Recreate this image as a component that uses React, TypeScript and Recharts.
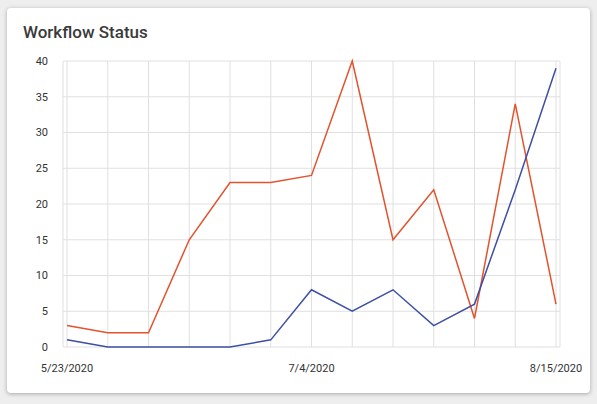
import { LineChart, Line, XAxis, YAxis, CartesianGrid } from 'recharts'

const dates = [
  '5/23/2020', '5/30/2020', '6/6/2020', '6/13/2020', '6/20/2020', '6/27/2020', '7/4/2020',
  '7/11/2020', '7/18/2020', '7/25/2020', '8/1/2020', '8/8/2020', '8/15/2020',
]
const openCounts = [3, 2, 2, 15, 23, 23, 24, 40, 15, 22, 4, 34, 6]
const doneCounts = [1, 0, 0, 0, 0, 1, 8, 5, 8, 3, 6, 22, 39]
const labeledDates = ['5/23/2020', '7/4/2020', '8/15/2020']
const yTicks = [0, 5, 10, 15, 20, 25, 30, 35, 40]

const data = dates.map((date, i) => ({ date, open: openCounts[i], done: doneCounts[i] }))

export default function App() {
  return (
    <div style={{ position: 'fixed', left: 0, top: 0, width: 597, height: 404, background: '#eeeeee', fontFamily: 'Roboto, sans-serif' }}>
      <div
        style={{
          position: 'absolute',
          left: 7,
          top: 8,
          width: 583,
          height: 385,
          background: '#fff',
          borderRadius: 4,
          boxShadow: '0 1px 4px rgba(0,0,0,0.3)',
        }}
      >
        <div style={{ position: 'absolute', left: 16, top: 14, fontSize: 17, fontWeight: 500, color: '#3a3a3a' }}>
          Workflow Status
        </div>
        <div style={{ position: 'absolute', left: 0, top: 0 }}>
          <LineChart width={583} height={385} data={data} margin={{ top: 53, right: 30, bottom: 16, left: 0 }}>
            <CartesianGrid stroke="#e0e0e0" />
            <XAxis
              dataKey="date"
              interval={0}
              padding={{ left: 4, right: 4 }}
              axisLine={false}
              tickLine={false}
              tickMargin={11}
              height={30}
              tickFormatter={(v) => (labeledDates.includes(v) ? v : '')}
              tick={{ fill: '#333', fontSize: 11 }}
            />
            <YAxis
              domain={[0, 40]}
              ticks={yTicks}
              width={56}
              axisLine={false}
              tickLine={false}
              tickMargin={9}
              tick={{ fill: '#333', fontSize: 11 }}
            />
            <Line type="linear" dataKey="open" stroke="#e2532e" strokeWidth={1.5} dot={false} isAnimationActive={false} />
            <Line type="linear" dataKey="done" stroke="#3e4fa3" strokeWidth={1.5} dot={false} isAnimationActive={false} />
          </LineChart>
        </div>
      </div>
    </div>
  )
}
